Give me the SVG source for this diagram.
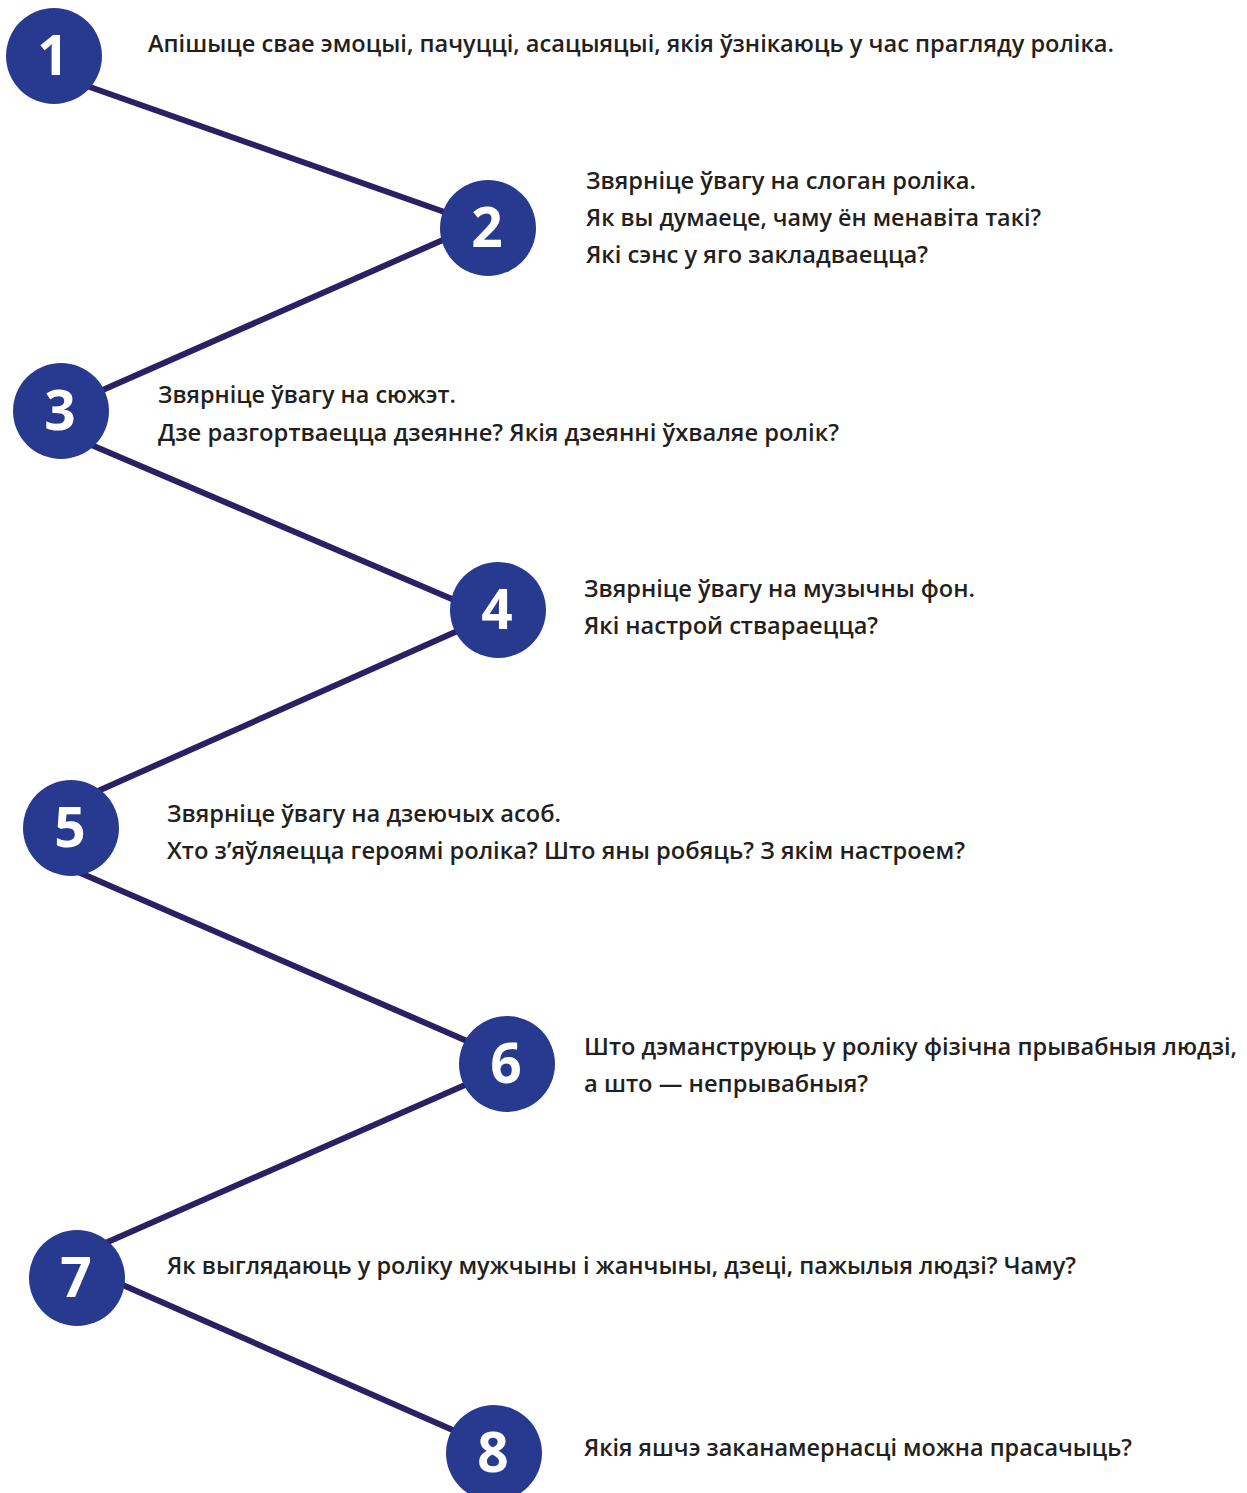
<svg xmlns="http://www.w3.org/2000/svg" width="1247" height="1493" viewBox="0 0 1247 1493">
<style>
.c{fill:#283a8f}
.n{fill:#fff;font-family:"Open Sans","Liberation Sans",sans-serif;font-weight:700;font-size:55px;text-anchor:middle}
.t{fill:#231f20;font-family:"Open Sans","Liberation Sans",sans-serif;font-weight:600;font-size:23px}
.l{stroke:#2a2164;stroke-width:6;fill:none;stroke-linecap:butt}
</style>
<rect width="1247" height="1493" fill="#fff"/>
<g id="connectors">
<line class="l" x1="70" y1="80" x2="470" y2="221"/>
<line class="l" x1="470" y1="228" x2="80" y2="400"/>
<line class="l" x1="75" y1="438" x2="480" y2="611"/>
<line class="l" x1="480" y1="621" x2="80" y2="799"/>
<line class="l" x1="62" y1="865" x2="490" y2="1051"/>
<line class="l" x1="490" y1="1074" x2="85" y2="1252"/>
<line class="l" x1="100" y1="1275" x2="480" y2="1442"/>
</g>
<g id="node1"><circle class="c" cx="54" cy="56" r="48"/><text class="n" x="53" y="75">1</text>
<text class="t" x="148" y="52" textLength="966" lengthAdjust="spacingAndGlyphs">Апішыце свае эмоцыі, пачуцці, асацыяцыі, якія ўзнікаюць у час прагляду роліка.</text></g>
<g id="node2"><circle class="c" cx="488" cy="228" r="48"/><text class="n" x="487" y="247">2</text>
<text class="t" x="586" y="189" textLength="390" lengthAdjust="spacingAndGlyphs">Звярніце ўвагу на слоган роліка.</text>
<text class="t" x="586" y="226" textLength="455" lengthAdjust="spacingAndGlyphs">Як вы думаеце, чаму ён менавіта такі?</text>
<text class="t" x="586" y="263" textLength="342" lengthAdjust="spacingAndGlyphs">Які сэнс у яго закладваецца?</text></g>
<g id="node3"><circle class="c" cx="61" cy="411" r="48"/><text class="n" x="60" y="430">3</text>
<text class="t" x="158" y="403" textLength="298" lengthAdjust="spacingAndGlyphs">Звярніце ўвагу на сюжэт.</text>
<text class="t" x="158" y="441" textLength="681" lengthAdjust="spacingAndGlyphs">Дзе разгортваецца дзеянне? Якія дзеянні ўхваляе ролік?</text></g>
<g id="node4"><circle class="c" cx="498" cy="610" r="48"/><text class="n" x="497" y="629">4</text>
<text class="t" x="584" y="597" textLength="391" lengthAdjust="spacingAndGlyphs">Звярніце ўвагу на музычны фон.</text>
<text class="t" x="584" y="634" textLength="294" lengthAdjust="spacingAndGlyphs">Які настрой ствараецца?</text></g>
<g id="node5"><circle class="c" cx="71" cy="828" r="48"/><text class="n" x="70" y="847">5</text>
<text class="t" x="167" y="822" textLength="394" lengthAdjust="spacingAndGlyphs">Звярніце ўвагу на дзеючых асоб.</text>
<text class="t" x="167" y="859" textLength="798" lengthAdjust="spacingAndGlyphs">Хто з’яўляецца героямі роліка? Што яны робяць? З якім настроем?</text></g>
<g id="node6"><circle class="c" cx="507" cy="1064" r="48"/><text class="n" x="506" y="1083">6</text>
<text class="t" x="584" y="1055" textLength="653" lengthAdjust="spacingAndGlyphs">Што дэманструюць у роліку фізічна прывабныя людзі,</text>
<text class="t" x="584" y="1092" textLength="284" lengthAdjust="spacingAndGlyphs">а што — непрывабныя?</text></g>
<g id="node7"><circle class="c" cx="77" cy="1278" r="48"/><text class="n" x="76" y="1297">7</text>
<text class="t" x="167" y="1274" textLength="909" lengthAdjust="spacingAndGlyphs">Як выглядаюць у роліку мужчыны і жанчыны, дзеці, пажылыя людзі? Чаму?</text></g>
<g id="node8"><circle class="c" cx="494" cy="1453" r="48"/><text class="n" x="493" y="1472">8</text>
<text class="t" x="584" y="1456" textLength="548" lengthAdjust="spacingAndGlyphs">Якія яшчэ заканамернасці можна прасачыць?</text></g>
</svg>
